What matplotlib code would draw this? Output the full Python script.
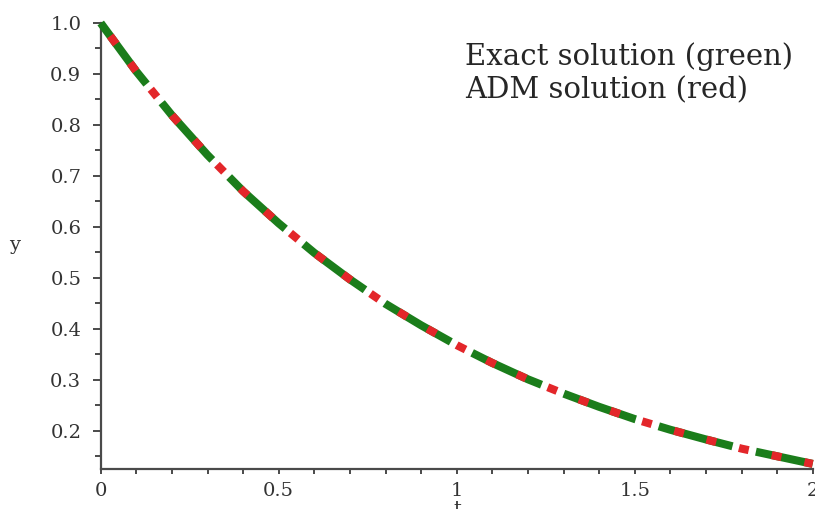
import numpy as np
import matplotlib
matplotlib.use('Agg')
import matplotlib.pyplot as plt
from matplotlib.ticker import MultipleLocator, FixedLocator

# values
t_vals = [0.0, 0.1, 0.2, 0.3, 0.4, 0.5, 0.6, 0.7, 0.8, 0.9, 1.0,
          1.1, 1.2, 1.3, 1.4, 1.5, 1.6, 1.7, 1.8, 1.9, 2.0]
exact_vals = [1.000, 0.905, 0.819, 0.741, 0.670, 0.607, 0.549, 0.497, 0.449, 0.407, 0.368,
              0.333, 0.301, 0.273, 0.247, 0.223, 0.202, 0.183, 0.165, 0.150, 0.135]
adm_vals = [1.000, 0.905, 0.819, 0.741, 0.670, 0.607, 0.549, 0.497, 0.449, 0.407, 0.368,
            0.333, 0.301, 0.273, 0.247, 0.223, 0.202, 0.183, 0.165, 0.150, 0.135]

x_ticks = [0, 0.5, 1, 1.5, 2]
x_tick_labels = ['0', '0.5', '1', '1.5', '2']
y_ticks = [0.2, 0.3, 0.4, 0.5, 0.6, 0.7, 0.8, 0.9, 1.0]
y_tick_labels = ['0.2', '0.3', '0.4', '0.5', '0.6', '0.7', '0.8', '0.9', '1.0']
notes = ['Exact solution (green)', 'ADM solution (red)']

plt.rcParams['font.family'] = ['DejaVu Serif']
plt.rcParams['lines.scale_dashes'] = False

W, H = 815, 509
fig = plt.figure(figsize=(W / 100, H / 100), dpi=100)
ax = fig.add_axes([100.7 / W, (H - 469) / H, 712 / W, 446 / H])

green = '#1b7d1b'
red = '#e3262a'
# green: long dashes; red: short dots, one of them centred in each green gap
ax.plot(t_vals, exact_vals, color=green, lw=5.8,
        linestyle=(0, (55, 17.3)), dash_capstyle='butt',
        clip_on=False, zorder=3)
ax.plot(t_vals, adm_vals, color=red, lw=5.8,
        linestyle=(12.5, (7.2, 16.9)), dash_capstyle='butt',
        clip_on=False, zorder=4)

ax.set_xlim(0, 2)
ax.set_ylim(0.125, 1.0)

for s in ['top', 'right']:
    ax.spines[s].set_visible(False)
for s in ['left', 'bottom']:
    ax.spines[s].set_color('#4a4a4a')
    ax.spines[s].set_linewidth(1.6)

ax.xaxis.set_major_locator(FixedLocator(x_ticks))
ax.set_xticklabels(x_tick_labels)
ax.xaxis.set_minor_locator(MultipleLocator(0.1))
ax.yaxis.set_major_locator(FixedLocator(y_ticks))
ax.set_yticklabels(y_tick_labels)
ax.yaxis.set_minor_locator(MultipleLocator(0.05))

ax.tick_params(axis='x', which='major', direction='out', length=3.5, width=1.4,
               color='#4a4a4a', pad=6, labelsize=14, labelcolor='#333333')
ax.tick_params(axis='x', which='minor', direction='out', length=3.5, width=1.4, color='#4a4a4a')
ax.tick_params(axis='y', which='major', direction='out', length=6, width=1.4,
               color='#4a4a4a', pad=8, labelsize=14, labelcolor='#333333')
ax.tick_params(axis='y', which='minor', direction='out', length=4, width=1.4, color='#4a4a4a')

# annotation text in the upper right
ax.text(1.023, 0.918, notes[0], fontsize=21, color='#262626', va='baseline')
ax.text(1.023, 0.853, notes[1], fontsize=21, color='#262626', va='baseline')

# axis labels
fig.text(15 / W, 1 - 245 / H, 'y', fontsize=14, color='#333333', ha='center', va='center')
fig.text(457 / W, 1 - 500 / H, 't', fontsize=14, color='#333333', ha='center', va='top')

fig.savefig('out.png', dpi=100, facecolor='white')
